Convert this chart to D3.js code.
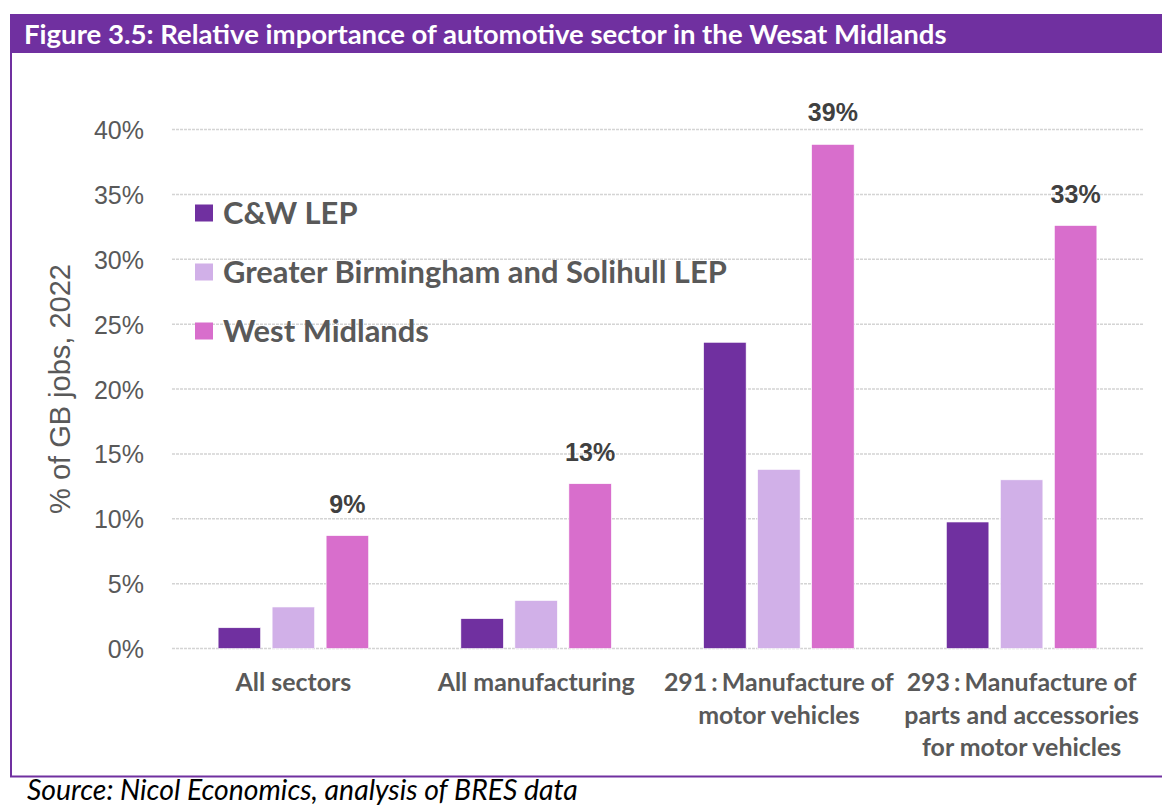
<!DOCTYPE html>
<html>
<head>
<meta charset="utf-8">
<script src="https://cdn.jsdelivr.net/npm/d3@7"></script>
<style>
  html, body { margin: 0; padding: 0; background: #fff; }
  svg { display: block; }
</style>
</head>
<body>
<svg id="chart" width="1162" height="807"></svg>
<script>
// ---- Data ----
const categories = [
  "All sectors",
  "All manufacturing",
  "291 : Manufacture of\nmotor vehicles",
  "293 : Manufacture of\nparts and accessories\nfor motor vehicles"
];
const seriesNames = ["C&W LEP", "Greater Birmingham and Solihull LEP", "West Midlands"];
const cwLep = [1.6, 2.3, 23.6, 9.75];
const gbsLep = [3.2, 3.7, 13.8, 13.0];
const westMidlands = [8.7, 12.7, 38.85, 32.6];
const yTicks = [0, 5, 10, 15, 20, 25, 30, 35, 40];
const titleText = "Figure 3.5: Relative importance of automotive sector in the Wesat Midlands";
const sourceText = "Source: Nicol Economics, analysis of BRES data";
const yTitle = "% of GB jobs, 2022";

const seriesValues = [cwLep, gbsLep, westMidlands];
const colors = ["#7030A0", "#D1B0E8", "#D86ECC"];
const purple = "#7030A0";

const svg = d3.select("#chart");

function fit(sel, target) {
  const node = sel.node();
  const fs = parseFloat(sel.attr("font-size"));
  const w = node.getComputedTextLength();
  sel.attr("font-size", (fs * target / w).toFixed(2));
  return fs * target / w;
}

// ---- Frame ----
svg.append("rect").attr("x", 10).attr("y", 14).attr("width", 1152).attr("height", 39).attr("fill", purple);
svg.append("rect").attr("x", 10).attr("y", 52).attr("width", 2).attr("height", 725).attr("fill", purple);
svg.append("rect").attr("x", 10).attr("y", 775.5).attr("width", 1152).attr("height", 2).attr("fill", purple);

const title = svg.append("text").attr("x", 24).attr("y", 44)
  .attr("font-family", "Lato").attr("font-weight", "bold").attr("font-size", 28)
  .attr("fill", "#fff").text(titleText);
fit(title, 923);

const src = svg.append("text").attr("x", 27).attr("y", 800)
  .attr("font-family", "Lato").attr("font-style", "italic").attr("font-size", 26)
  .attr("fill", "#000").text(sourceText);
fit(src, 551);

// ---- Scales ----
const y = d3.scaleLinear().domain([0, 40]).range([648.5, 129.5]);
const x0 = d3.scaleBand().domain(categories).range([172, 1143]).paddingInner(0).paddingOuter(0);
const x1 = d3.scaleBand().domain(seriesNames).range([0, x0.bandwidth()]).paddingInner(0.213).paddingOuter(0.854);

// ---- Gridlines ----
svg.append("g").selectAll("line").data(yTicks).join("line")
  .attr("x1", 172).attr("x2", 1143)
  .attr("y1", d => y(d)).attr("y2", d => y(d))
  .attr("stroke", "#d4d4d4").attr("stroke-width", 1.5).attr("stroke-dasharray", "3,1");

// ---- Y axis labels ----
const yAxis = d3.axisLeft(y).tickValues(yTicks).tickFormat(d => d + "%").tickSize(0).tickPadding(0);
const yg = svg.append("g").attr("transform", "translate(144,0)").call(yAxis);
yg.select(".domain").remove();
yg.selectAll("text").attr("font-family", "Liberation Sans").attr("font-size", 25)
  .attr("fill", "#595959").attr("dy", "0.36em");

svg.append("text").attr("transform", "translate(70,389) rotate(-90)")
  .attr("text-anchor", "middle").attr("font-family", "Liberation Sans").attr("font-size", 29)
  .attr("fill", "#595959").text(yTitle);

// ---- Bars ----
const groups = svg.append("g").selectAll("g").data(categories).join("g")
  .attr("transform", d => `translate(${x0(d)},0)`);
groups.selectAll("rect").data((c, i) => seriesNames.map((s, k) => ({ s, k, v: seriesValues[k][i] })))
  .join("rect")
  .attr("x", d => x1(d.s)).attr("width", x1.bandwidth())
  .attr("y", d => y(d.v)).attr("height", d => y(0) - y(d.v))
  .attr("fill", d => colors[d.k]).attr("stroke", "#fff").attr("stroke-width", 0.6);

// ---- Data labels (West Midlands) ----
svg.append("g").selectAll("text").data(categories).join("text")
  .attr("x", (c) => x0(c) + x1(seriesNames[2]) + x1.bandwidth() / 2)
  .attr("y", (c, i) => y(westMidlands[i]) - 23)
  .attr("text-anchor", "middle").attr("font-family", "Liberation Sans").attr("font-weight", "bold")
  .attr("font-size", 25).attr("fill", "#404040")
  .text((c, i) => d3.format(".0f")(westMidlands[i]) + "%");

// ---- X labels ----
const xl = svg.append("g");
const probe = xl.append("text").attr("font-family", "Lato").attr("font-weight", "bold").attr("font-size", 24).text(categories[1]);
const xfs = fit(probe, 197);
probe.remove();
categories.forEach(c => {
  const cx = x0(c) + x0.bandwidth() / 2;
  const t = xl.append("text").attr("x", cx).attr("y", 691)
    .attr("text-anchor", "middle").attr("font-family", "Lato").attr("font-weight", "bold")
    .attr("font-size", xfs).attr("fill", "#595959");
  c.split("\n").forEach((line, j) => {
    const parts = line.split(" : ");
    const ts = t.append("tspan").attr("x", cx).attr("y", 691 + j * 32.5);
    if (parts.length === 2) {
      ts.text(parts[0]);
      t.append("tspan").attr("dx", -2).text(" : ");
      t.append("tspan").attr("dx", -2).text(parts[1]);
    } else {
      ts.text(line);
    }
  });
});

// ---- Legend ----
const lg = svg.append("g");
const legendY = [213, 272, 331];
let lfs = 24;
seriesNames.forEach((s, k) => {
  lg.append("rect").attr("x", 195).attr("y", legendY[k] - 8.5).attr("width", 18).attr("height", 17).attr("fill", colors[k]);
});
const probe2 = lg.append("text").attr("font-family", "Lato").attr("font-weight", "bold").attr("font-size", 24).text(seriesNames[1]);
lfs = fit(probe2, 504);
probe2.remove();
seriesNames.forEach((s, k) => {
  lg.append("text").attr("x", 223).attr("y", legendY[k]).attr("dy", "0.36em")
    .attr("font-family", "Lato").attr("font-weight", "bold").attr("font-size", lfs)
    .attr("fill", "#595959").text(s);
});
</script>
</body>
</html>
